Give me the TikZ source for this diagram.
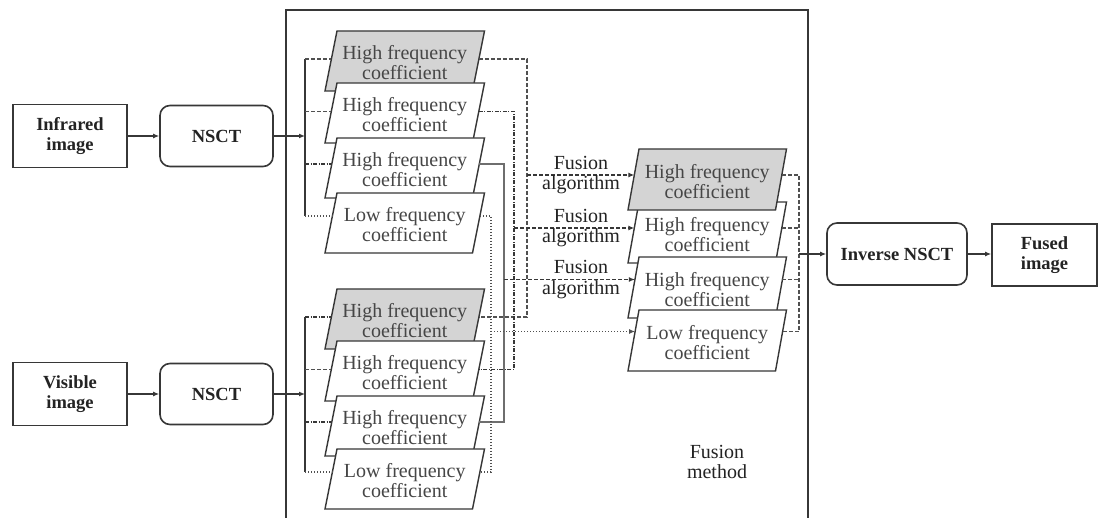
\documentclass[tikz,border=0pt]{standalone}
\usepackage{fontspec}
\setmainfont{Liberation Serif}
\usetikzlibrary{arrows.meta,calc}
\definecolor{ln}{RGB}{55,55,55}
\definecolor{parfill}{RGB}{212,212,212}
\definecolor{txt}{RGB}{35,35,35}
\definecolor{ptxt}{RGB}{70,70,70}
\definecolor{cn}{RGB}{80,80,80}
\definecolor{cl}{RGB}{110,110,110}
\newcommand{\pgramshape}[8]{%
  \filldraw[fill=#7,draw=ln,line width=1.4pt]
    ({#2-73.75-#5},{#3+#4}) -- ({#2-73.75+#5},#3) -- ({#2+73.75+#5},#3) -- ({#2+73.75-#5},{#3+#4}) -- cycle;
  \node[ptext] (#1) at (#2,{#3+#4/2+2}) {#8};
  \coordinate (#1w) at ({#2-73.75+#5-2*#5*#6/#4},{#3+#6});
  \coordinate (#1e) at ({#2+73.75+#5-2*#5*#6/#4},{#3+#6});
}
\begin{document}
\begin{tikzpicture}[x=1pt,y=-1pt,
  boxsq/.style={draw=ln,line width=1.6pt,inner sep=0pt,align=center,
    font=\bfseries\fontsize{18.5}{20}\selectfont,text=txt},
  boxrd/.style={boxsq,rounded corners=10pt},
  ptext/.style={inner sep=0pt,align=center,font=\fontsize{20}{20}\selectfont,text=ptxt},
  fusionlbl/.style={inner sep=0pt,align=center,font=\fontsize{20}{20.5}\selectfont,text=txt},
  arr/.style={draw=ln,line width=1.3pt,-{Latex[length=6pt,width=5pt]}},
  trunk/.style={draw=ln,line width=1.3pt},
  hfa/.style={draw=cn,line width=1.2pt,dash pattern=on 4pt off 2pt},
  hfb/.style={draw=ln,line width=1.2pt,dash pattern=on 4pt off 1.5pt on 1pt off 1.5pt},
  hfc/.style={draw=cl,line width=1.1pt},
  lfs/.style={draw=cn,line width=1.2pt,dash pattern=on 1.2pt off 1.8pt},
  fuse/.style={draw=ln,line width=1.2pt,dash pattern=on 4pt off 2pt,-{Latex[length=6pt,width=5pt]}},
  lfarr/.style={draw=cn,line width=1.2pt,dash pattern=on 1.2pt off 1.8pt,-{Latex[length=6pt,width=5pt]}},
  frame/.style={draw=ln,line width=1.6pt}
]
\useasboundingbox (0,0) rectangle (1098,518);
\fill[white] (0,0) rectangle (1098,518);

% big frame (open at the bottom)
\draw[frame] (286,520) -- (286,10) -- (808,10) -- (808,520);

% input boxes
\node[boxsq,minimum width=114pt,minimum height=63pt] (ir) at (70,136) {Infrared\\image};
\node[boxrd,minimum width=113pt,minimum height=61pt] (nsA) at (216.5,136) {NSCT};
\node[boxsq,minimum width=114pt,minimum height=63pt] (vis) at (70,394) {Visible\\image};
\node[boxrd,minimum width=113pt,minimum height=61pt] (nsB) at (216.5,394) {NSCT};

% left parallelograms, top group
\pgramshape{a1}{404.75}{31}{60}{6}{28}{parfill}{High frequency\\coefficient}
\pgramshape{a2}{404.75}{83}{60}{6}{28.5}{white}{High frequency\\coefficient}
\pgramshape{a3}{404.75}{138}{60}{6}{26}{white}{High frequency\\coefficient}
\pgramshape{a4}{404.75}{193}{60}{6}{23}{white}{Low frequency\\coefficient}
% bottom group
\pgramshape{b1}{404.75}{289}{60}{6}{28}{parfill}{High frequency\\coefficient}
\pgramshape{b2}{404.75}{341}{60}{6}{28.5}{white}{High frequency\\coefficient}
\pgramshape{b3}{404.75}{396}{60}{6}{26}{white}{High frequency\\coefficient}
\pgramshape{b4}{404.75}{449}{60}{6}{23}{white}{Low frequency\\coefficient}
% right column
\pgramshape{c2}{707.25}{202}{61}{5.5}{26}{white}{High frequency\\coefficient}
\pgramshape{c1}{707.25}{149}{61}{5.5}{26}{parfill}{High frequency\\coefficient}
\pgramshape{c3}{707.25}{257}{61}{5.5}{22.5}{white}{High frequency\\coefficient}
\pgramshape{c4}{707.25}{310}{61}{5.5}{21.5}{white}{Low frequency\\coefficient}

% output boxes
\node[boxrd,minimum width=140pt,minimum height=62pt] (inv) at (897,254) {Inverse NSCT};
\node[boxsq,minimum width=105pt,minimum height=62pt] (fused) at (1044.5,255) {Fused\\image};

% helper x positions
\coordinate (tA) at (305,0);
\coordinate (k1) at (527,0);
\coordinate (k2) at (514,0);
\coordinate (k3) at (504,0);
\coordinate (k4) at (491,0);
\coordinate (fx) at (581,0);
\coordinate (rk) at (799,0);

% inputs to NSCT
\draw[arr] (ir.east) -- (nsA.west);
\draw[arr] (vis.east) -- (nsB.west);

% NSCT to trunks
\draw[arr] (nsA.east) -- (nsA.east -| tA);
\draw[trunk] (a1w -| tA) -- (a4w -| tA);
\draw[hfa] (a1w -| tA) -- (a1w);
\draw[hfa] (a2w -| tA) -- (a2w);
\draw[hfb] (a3w -| tA) -- (a3w);
\draw[lfs] (a4w -| tA) -- (a4w);

\draw[arr] (nsB.east) -- (nsB.east -| tA);
\draw[trunk] (b1w -| tA) -- (b4w -| tA);
\draw[hfb] (b1w -| tA) -- (b1w);
\draw[hfa] (b2w -| tA) -- (b2w);
\draw[hfb] (b3w -| tA) -- (b3w);
\draw[lfs] (b4w -| tA) -- (b4w);

% brackets joining both groups
\draw[hfa] (a1e) -| (b1e -| k1) -- (b1e);
\draw[hfb] (a2e) -| (b2e -| k2) -- (b2e);
\draw[hfc] (a3e) -| (b3e -| k3) -- (b3e);
\draw[lfs] (a4e) -| (b4e -| k4) -- (b4e);

% fusion arrows
\draw[fuse] (c1w -| k1) -- (c1w);
\draw[fuse] (c2w -| k2) -- (c2w);
\draw[fuse] (c3w -| k3) -- (c3w);
\draw[lfarr] (c4w -| k4) -- (c4w);
\node[fusionlbl] (f1) at (c1w -| fx) {Fusion\\algorithm};
\node[fusionlbl] (f2) at (c2w -| fx) {Fusion\\algorithm};
\node[fusionlbl] (f3) at (c3w -| fx) {Fusion\\algorithm};

% right bracket
\draw[hfa] (c1e) -| (c4e -| rk) -- (c4e);
\draw[hfa] (c2e) -- (c2e -| rk);
\draw[hfa] (c3e) -- (c3e -| rk);
\draw[arr] (inv.west -| rk) -- (inv.west);
\draw[arr] (inv.east) -- (inv.east -| fused.west);

% label
\node[fusionlbl] (fm) at (717,462) {Fusion\\method};
\end{tikzpicture}
\end{document}
